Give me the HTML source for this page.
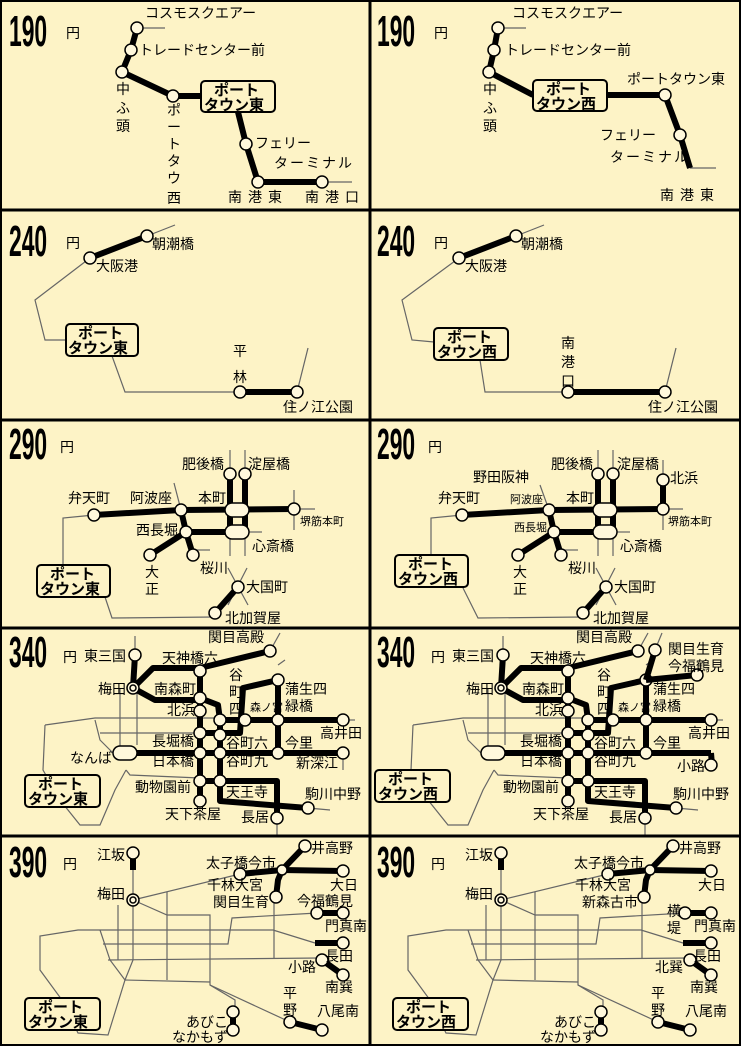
<!DOCTYPE html>
<html><head><meta charset="utf-8"><style>
html,body{margin:0;padding:0;background:#fdf3c6}
svg{display:block}
text{font-family:"Liberation Sans","Noto Sans CJK JP",sans-serif;font-size:14px;fill:#000}
.t{stroke:#000;stroke-width:6;fill:none;stroke-linejoin:round}
.n{stroke:#666;stroke-width:1.2;fill:none}
.s{fill:#fff8dc;stroke:#000;stroke-width:1.5}
.b{fill:#fdf3c6;stroke:#000;stroke-width:2}
.bt{font-weight:bold;font-size:15px}
.num{font-size:44px;font-weight:bold}
.sm{font-size:11px}
</style></head><body>
<svg width="741" height="1046" viewBox="0 0 741 1046" xmlns="http://www.w3.org/2000/svg">
<rect x="0" y="0" width="741" height="1046" fill="#fdf3c6"/>

<!-- ============ 190 LEFT ============ -->
<text class="num" transform="translate(9,46) scale(0.52,1)">190</text>
<text x="66" y="38" font-size="17">円</text>
<polyline class="n" points="137,28 165,28"/>
<polyline class="n" points="322,182 352,182"/>
<polyline class="t" points="137,28 131,50 122,72 173,96 201,96"/>
<polyline class="t" points="238,112 246,144 258,182 322,182"/>
<circle class="s" cx="137" cy="28" r="6"/><circle class="s" cx="131" cy="50" r="6"/>
<circle class="s" cx="122" cy="72" r="6"/><circle class="s" cx="173" cy="96" r="6"/>
<circle class="s" cx="246" cy="144" r="6"/><circle class="s" cx="258" cy="182" r="6"/>
<circle class="s" cx="322" cy="182" r="6"/>
<rect class="b" x="201" y="81" width="74" height="31" rx="4"/>
<text class="bt" x="214" y="95">ポート</text><text class="bt" x="204" y="110">タウン東</text>
<text x="145" y="18">コスモスクエアー</text>
<text x="139" y="55">トレードセンター前</text>
<text x="116" y="94">中</text><text x="116" y="113">ふ</text><text x="116" y="131">頭</text>
<text x="167" y="115">ポ</text><text x="167" y="132">ー</text><text x="167" y="149">ト</text><text x="167" y="166">タ</text><text x="167" y="183">ウ</text>
<text x="167" y="187" dy="0"></text>
<text x="167" y="187" opacity="0"> </text>
<text x="167" y="200"></text>
<text x="167" y="187" display="none"> </text>
<text x="167" y="186"></text>
<text x="167" y="203">西</text>
<text x="255" y="148">フェリー</text>
<text x="274" y="168" letter-spacing="2">ターミナル</text>
<text x="228" y="202" letter-spacing="6">南港東</text>
<text x="305" y="202" letter-spacing="6">南港口</text>

<!-- ============ 190 RIGHT ============ -->
<text class="num" transform="translate(377,46) scale(0.52,1)">190</text>
<text x="434" y="38" font-size="17">円</text>
<polyline class="n" points="498,28 526,28"/>
<polyline class="n" points="690,168 716,168"/>
<polyline class="t" points="498,28 494,50 489,72 533,95"/>
<polyline class="t" points="607,95 665,95 680,135 690,168"/>
<circle class="s" cx="498" cy="28" r="6"/><circle class="s" cx="494" cy="50" r="6"/>
<circle class="s" cx="489" cy="72" r="6"/><circle class="s" cx="665" cy="95" r="6"/>
<circle class="s" cx="680" cy="135" r="6"/>
<rect class="b" x="533" y="80" width="74" height="31" rx="4"/>
<text class="bt" x="546" y="94">ポート</text><text class="bt" x="536" y="109">タウン西</text>
<text x="512" y="18">コスモスクエアー</text>
<text x="505" y="55">トレードセンター前</text>
<text x="483" y="94">中</text><text x="483" y="113">ふ</text><text x="483" y="131">頭</text>
<text x="627" y="84">ポートタウン東</text>
<text x="600" y="140">フェリー</text>
<text x="610" y="162" letter-spacing="2">ターミナル</text>
<text x="660" y="200" letter-spacing="6">南港東</text>

<!-- ============ 240 LEFT ============ -->
<text class="num" transform="translate(9,256) scale(0.52,1)">240</text>
<text x="66" y="248" font-size="17">円</text>
<polyline class="n" points="147,236 175,225"/>
<polyline class="n" points="90,258 35,300 45,340 66,340"/>
<polyline class="n" points="112,356 125,392 240,392"/>
<polyline class="n" points="297,392 308,348"/>
<polyline class="t" points="90,258 147,236"/>
<polyline class="t" points="240,392 297,392"/>
<circle class="s" cx="90" cy="258" r="6"/><circle class="s" cx="147" cy="236" r="6"/>
<circle class="s" cx="240" cy="392" r="6"/><circle class="s" cx="297" cy="392" r="6"/>
<rect class="b" x="66" y="324" width="72" height="32" rx="4"/>
<text class="bt" x="78" y="338">ポート</text><text class="bt" x="68" y="353">タウン東</text>
<text x="96" y="271">大阪港</text><text x="152" y="249">朝潮橋</text>
<text x="233" y="356">平</text><text x="233" y="382">林</text>
<text x="283" y="412">住ノ江公園</text>

<!-- ============ 240 RIGHT ============ -->
<text class="num" transform="translate(377,256) scale(0.52,1)">240</text>
<text x="434" y="248" font-size="17">円</text>
<polyline class="n" points="516,236 544,225"/>
<polyline class="n" points="459,258 402,300 412,340 434,342"/>
<polyline class="n" points="480,360 485,392 568,392"/>
<polyline class="n" points="665,392 676,348"/>
<polyline class="t" points="459,258 516,236"/>
<polyline class="t" points="568,392 665,392"/>
<circle class="s" cx="459" cy="258" r="6"/><circle class="s" cx="516" cy="236" r="6"/>
<circle class="s" cx="568" cy="392" r="6"/><circle class="s" cx="665" cy="392" r="6"/>
<rect class="b" x="434" y="328" width="74" height="32" rx="4"/>
<text class="bt" x="447" y="342">ポート</text><text class="bt" x="437" y="357">タウン西</text>
<text x="465" y="271">大阪港</text><text x="521" y="249">朝潮橋</text>
<text x="561" y="348">南</text><text x="561" y="367">港</text><text x="561" y="386">口</text>
<text x="648" y="412">住ノ江公園</text>

<!-- ============ 290 LEFT ============ -->
<text class="num" transform="translate(9,459) scale(0.52,1)">290</text>
<text x="60" y="452" font-size="17">円</text>
<g>
<polyline class="n" points="94,515 63,518 63,565"/>
<polyline class="n" points="105,597 112,618 215,617"/>
<polyline class="n" points="174,483 181,510"/>
<polyline class="n" points="294,490 294,530"/><polyline class="n" points="294,509 315,509"/>
<polyline class="n" points="230,450 230,556"/><polyline class="n" points="245,450 245,556"/>
<polyline class="n" points="248,532 262,532"/><polyline class="n" points="195,550 210,550"/>
<polyline class="n" points="228,568 248,605"/><polyline class="n" points="247,568 228,605"/>
<polyline class="t" points="94,515 181,510 294,509"/>
<polyline class="t" points="181,510 186,532 193,555"/>
<polyline class="t" points="186,532 150,555"/>
<polyline class="t" points="186,532 248,532"/>
<polyline class="t" points="230,475 230,532"/><polyline class="t" points="245,475 245,532"/>
<polyline class="t" points="238,587 215,613"/>
<circle class="s" cx="94" cy="515" r="6"/><circle class="s" cx="181" cy="510" r="6"/>
<circle class="s" cx="294" cy="509" r="6"/><circle class="s" cx="186" cy="532" r="6"/>
<circle class="s" cx="150" cy="555" r="6"/><circle class="s" cx="193" cy="555" r="6"/>
<circle class="s" cx="230" cy="474" r="6"/><circle class="s" cx="245" cy="474" r="6"/>
<circle class="s" cx="238" cy="587" r="6"/><circle class="s" cx="215" cy="613" r="6"/>
<rect class="s" x="225" y="503" width="24" height="14" rx="7"/>
<rect class="s" x="225" y="525" width="24" height="14" rx="7"/>
</g>
<rect class="b" x="37" y="565" width="73" height="32" rx="4"/>
<text class="bt" x="50" y="579">ポート</text><text class="bt" x="40" y="594">タウン東</text>
<text x="182" y="469">肥後橋</text><text x="248" y="469">淀屋橋</text>
<text x="68" y="503">弁天町</text><text x="130" y="503">阿波座</text>
<text x="198" y="503">本町</text><text class="sm" x="300" y="525">堺筋本町</text>
<text x="136" y="535">西長堀</text><text x="252" y="551">心斎橋</text>
<text x="145" y="577">大</text><text x="145" y="594">正</text>
<text x="200" y="573">桜川</text><text x="246" y="592">大国町</text>
<text x="225" y="623">北加賀屋</text>

<!-- ============ 290 RIGHT ============ -->
<text class="num" transform="translate(377,459) scale(0.52,1)">290</text>
<text x="428" y="452" font-size="17">円</text>
<g>
<polyline class="n" points="462,515 431,518 431,555"/>
<polyline class="n" points="463,588 478,618 583,617"/>
<polyline class="n" points="540,485 549,510"/>
<polyline class="n" points="663,460 663,530"/><polyline class="n" points="663,509 683,509"/>
<polyline class="n" points="598,450 598,556"/><polyline class="n" points="613,450 613,556"/>
<polyline class="n" points="616,532 630,532"/><polyline class="n" points="563,550 578,550"/>
<polyline class="n" points="596,568 616,605"/><polyline class="n" points="615,568 596,605"/>
<polyline class="t" points="462,515 549,510 663,509"/>
<polyline class="t" points="663,480 663,509"/>
<polyline class="t" points="549,510 554,532 561,555"/>
<polyline class="t" points="554,532 518,555"/>
<polyline class="t" points="554,532 616,532"/>
<polyline class="t" points="598,475 598,532"/><polyline class="t" points="613,475 613,532"/>
<polyline class="t" points="606,587 583,613"/>
<circle class="s" cx="462" cy="515" r="6"/><circle class="s" cx="549" cy="510" r="6"/>
<circle class="s" cx="663" cy="509" r="6"/><circle class="s" cx="663" cy="480" r="6"/>
<circle class="s" cx="554" cy="532" r="6"/>
<circle class="s" cx="518" cy="555" r="6"/><circle class="s" cx="561" cy="555" r="6"/>
<circle class="s" cx="598" cy="474" r="6"/><circle class="s" cx="613" cy="474" r="6"/>
<circle class="s" cx="606" cy="587" r="6"/><circle class="s" cx="583" cy="613" r="6"/>
<rect class="s" x="593" y="503" width="24" height="14" rx="7"/>
<rect class="s" x="593" y="525" width="24" height="14" rx="7"/>
</g>
<rect class="b" x="395" y="555" width="73" height="32" rx="4"/>
<text class="bt" x="408" y="569">ポート</text><text class="bt" x="398" y="584">タウン西</text>
<text x="473" y="482">野田阪神</text>
<text x="551" y="469">肥後橋</text><text x="617" y="469">淀屋橋</text><text x="670" y="483">北浜</text>
<text x="438" y="503">弁天町</text><text class="sm" x="510" y="503">阿波座</text>
<text x="566" y="503">本町</text><text class="sm" x="668" y="525">堺筋本町</text>
<text class="sm" x="514" y="531">西長堀</text><text x="620" y="551">心斎橋</text>
<text x="513" y="577">大</text><text x="513" y="594">正</text>
<text x="568" y="573">桜川</text><text x="614" y="592">大国町</text>
<text x="593" y="623">北加賀屋</text>

<!-- ============ 340 (shared network) ============ -->
<defs>
<g id="net340">
<polyline class="n" points="135,636 135,655"/>
<polyline class="n" points="270,651 280,633"/>
<polyline class="n" points="343,720 355,720"/><polyline class="n" points="343,753 343,770"/>
<polyline class="n" points="308,808 330,810"/><polyline class="n" points="277,818 277,835"/>
<polyline class="n" points="120,688 120,753"/><polyline class="n" points="137,688 137,745"/>
<polyline class="n" points="45,725 95,718 200,718 230,718"/>
<polyline class="n" points="45,725 43,770 60,800 80,825 100,825 115,790 126,770"/>
<polyline class="n" points="95,720 100,740 113,753"/>
<polyline class="n" points="100,733 200,733"/>
<polyline class="n" points="126,770 130,775 200,778"/>
<polyline class="n" points="200,660 200,671"/>
<polyline class="n" points="278,665 285,660"/>
<polyline class="t" points="135,655 133,688"/>
<polyline class="t" points="133,688 153,668 200,668 270,651"/>
<polyline class="t" points="133,688 155,700 205,700 218,705 220,720 220,781"/>
<polyline class="t" points="200,668 200,801"/>
<polyline class="t" points="220,720 343,720"/>
<polyline class="t" points="278,680 278,753"/>
<polyline class="t" points="200,733 240,733 243,688 278,680"/>
<polyline class="t" points="137,753 343,753"/>
<polyline class="t" points="200,781 220,781 277,781 277,818"/>
<polyline class="t" points="220,781 220,801 308,808"/>
<circle class="s" cx="135" cy="655" r="6"/>
<circle class="s" cx="133" cy="688" r="6"/><circle class="s" cx="133" cy="688" r="3"/>
<circle class="s" cx="200" cy="671" r="6"/><circle class="s" cx="200" cy="698" r="6"/>
<circle class="s" cx="200" cy="711" r="6"/><circle class="s" cx="270" cy="651" r="6"/>
<circle class="s" cx="220" cy="720" r="6"/><circle class="s" cx="245" cy="720" r="6"/>
<circle class="s" cx="278" cy="680" r="6"/><circle class="s" cx="278" cy="720" r="6"/>
<circle class="s" cx="343" cy="720" r="6"/><circle class="s" cx="200" cy="733" r="6"/>
<circle class="s" cx="220" cy="735" r="6"/><circle class="s" cx="200" cy="753" r="6"/>
<circle class="s" cx="220" cy="753" r="6"/><circle class="s" cx="278" cy="753" r="6"/>
<circle class="s" cx="200" cy="781" r="6"/><circle class="s" cx="220" cy="781" r="6"/>
<circle class="s" cx="200" cy="801" r="6"/><circle class="s" cx="308" cy="808" r="6"/>
<circle class="s" cx="277" cy="818" r="6"/>
<rect class="s" x="113" y="746" width="24" height="14" rx="7"/>
<text x="84" y="661">東三国</text><text x="98" y="694">梅田</text>
<text x="162" y="663">天神橋六</text><text x="154" y="694">南森町</text>
<text x="167" y="715">北浜</text><text x="208" y="642">関目高殿</text>
<text x="229" y="680">谷</text><text x="229" y="697">町</text><text x="229" y="714">四</text>
<text class="sm" x="250" y="711" font-size="10">森ノ宮</text>
<text x="285" y="694">蒲生四</text><text x="285" y="711">緑橋</text>
<text x="152" y="746">長堀橋</text><text x="152" y="766">日本橋</text>
<text x="226" y="748">谷町六</text><text x="226" y="766">谷町九</text>
<text x="285" y="748">今里</text>
<text x="135" y="792">動物園前</text><text x="226" y="797">天王寺</text>
<text x="165" y="819">天下茶屋</text><text x="241" y="822">長居</text>
<text x="305" y="799">駒川中野</text>
</g>
</defs>

<!-- 340 LEFT -->
<text class="num" transform="translate(9,667) scale(0.52,1)">340</text>
<text x="63" y="662" font-size="17">円</text>
<use href="#net340"/>
<circle class="s" cx="343" cy="753" r="6"/>
<text x="70" y="763">なんば</text>
<text x="320" y="738">高井田</text><text x="296" y="768">新深江</text>
<rect class="b" x="25" y="775" width="75" height="32" rx="4"/>
<text class="bt" x="38" y="789">ポート</text><text class="bt" x="28" y="804">タウン東</text>

<!-- 340 RIGHT -->
<text class="num" transform="translate(377,667) scale(0.52,1)">340</text>
<text x="431" y="662" font-size="17">円</text>
<g transform="translate(368,0)"><use href="#net340"/></g>
<polyline class="n" points="655,650 662,633"/>
<polyline class="t" points="655,650 646,680"/>
<polyline class="t" points="646,680 697,675"/>
<polyline class="t" points="711,753 712,765"/>
<circle class="s" cx="655" cy="650" r="6"/><circle class="s" cx="697" cy="675" r="6"/>
<circle class="s" cx="711" cy="765" r="6"/>
<text x="668" y="654">関目生育</text><text x="668" y="671">今福鶴見</text>
<text x="688" y="738">高井田</text><text x="677" y="771">小路</text>
<rect class="b" x="375" y="770" width="75" height="32" rx="4"/>
<text class="bt" x="388" y="784">ポート</text><text class="bt" x="378" y="799">タウン西</text>

<!-- ============ 390 shared ============ -->
<defs>
<g id="net390">
<polyline class="n" points="133,870 133,960 125,980 108,1035 78,1033 62,1000 40,970 40,936 78,930 273,930 315,943"/>
<polyline class="n" points="133,900 240,874"/>
<polyline class="n" points="133,900 167,915 210,915 210,985 235,1000 235,1012"/>
<polyline class="n" points="100,930 110,960 125,980"/>
<polyline class="n" points="103,944 228,944 232,918 317,913"/>
<polyline class="n" points="108,960 320,958"/>
<polyline class="n" points="167,892 167,980"/>
<polyline class="n" points="274,895 274,958"/>
<polyline class="n" points="118,905 118,960"/>
<polyline class="n" points="125,980 210,982"/>
<polyline class="n" points="210,985 290,1022"/>
<polyline class="t" points="133,853 133,870"/>
<polyline class="t" points="240,874 282,870 305,846"/>
<polyline class="t" points="282,870 343,871"/>
<polyline class="t" points="282,870 278,880 276,897"/>
<polyline class="t" points="317,913 343,913"/>
<polyline class="t" points="315,943 343,943"/>
<polyline class="t" points="322,960 343,975"/>
<polyline class="t" points="233,1012 233,1030"/>
<polyline class="t" points="290,1022 322,1030"/>
<circle class="s" cx="133" cy="853" r="6"/>
<circle class="s" cx="133" cy="900" r="6"/><circle class="s" cx="133" cy="900" r="3"/>
<circle class="s" cx="240" cy="874" r="6"/><circle class="s" cx="305" cy="846" r="6"/>
<circle class="s" cx="282" cy="870" r="5"/><circle class="s" cx="343" cy="871" r="6"/>
<circle class="s" cx="276" cy="897" r="6"/><circle class="s" cx="317" cy="913" r="6"/>
<circle class="s" cx="343" cy="913" r="6"/><circle class="s" cx="343" cy="943" r="6"/>
<circle class="s" cx="322" cy="960" r="6"/><circle class="s" cx="343" cy="975" r="6"/>
<circle class="s" cx="233" cy="1012" r="6"/><circle class="s" cx="233" cy="1030" r="6"/>
<circle class="s" cx="290" cy="1022" r="6"/><circle class="s" cx="322" cy="1030" r="6"/>
<text x="97" y="860">江坂</text><text x="97" y="899">梅田</text>
<text x="206" y="868">太子橋今市</text><text x="311" y="853">井高野</text>
<text x="330" y="890">大日</text>
<text x="186" y="1027">あびこ</text><text x="172" y="1042">なかもず</text>
<text x="317" y="1016">八尾南</text>
</g>
</defs>

<!-- 390 LEFT -->
<text class="num" transform="translate(9,877) scale(0.52,1)">390</text>
<text x="63" y="869" font-size="17">円</text>
<use href="#net390"/>
<text x="207" y="890">千林大宮</text><text x="213" y="907">関目生育</text>
<text x="297" y="906">今福鶴見</text><text x="325" y="931">門真南</text>
<text x="325" y="961">長田</text><text x="288" y="972">小路</text>
<text x="325" y="992">南巽</text>
<text x="283" y="998">平</text><text x="283" y="1015">野</text>
<rect class="b" x="25" y="998" width="75" height="32" rx="4"/>
<text class="bt" x="38" y="1012">ポート</text><text class="bt" x="28" y="1027">タウン東</text>

<!-- 390 RIGHT -->
<text class="num" transform="translate(377,877) scale(0.52,1)">390</text>
<text x="431" y="869" font-size="17">円</text>
<g transform="translate(368,0)"><use href="#net390"/></g>
<text x="575" y="890">千林大宮</text><text x="582" y="907">新森古市</text>
<text x="667" y="916">横</text><text x="667" y="933">堤</text>
<text x="694" y="931">門真南</text>
<text x="693" y="961">長田</text><text x="655" y="972">北巽</text>
<text x="690" y="992">南巽</text>
<text x="651" y="998">平</text><text x="651" y="1015">野</text>
<rect class="b" x="393" y="998" width="75" height="32" rx="4"/>
<text class="bt" x="406" y="1012">ポート</text><text class="bt" x="396" y="1027">タウン西</text>

<!-- ============ GRID ============ -->
<rect x="1" y="1" width="739" height="1044" fill="none" stroke="#000" stroke-width="2"/>
<line x1="370" y1="0" x2="370" y2="1046" stroke="#000" stroke-width="3"/>
<line x1="0" y1="210" x2="741" y2="210" stroke="#000" stroke-width="3"/>
<line x1="0" y1="420" x2="741" y2="420" stroke="#000" stroke-width="3"/>
<line x1="0" y1="628" x2="741" y2="628" stroke="#000" stroke-width="3"/>
<line x1="0" y1="836" x2="741" y2="836" stroke="#000" stroke-width="3"/>
</svg>
</body></html>
